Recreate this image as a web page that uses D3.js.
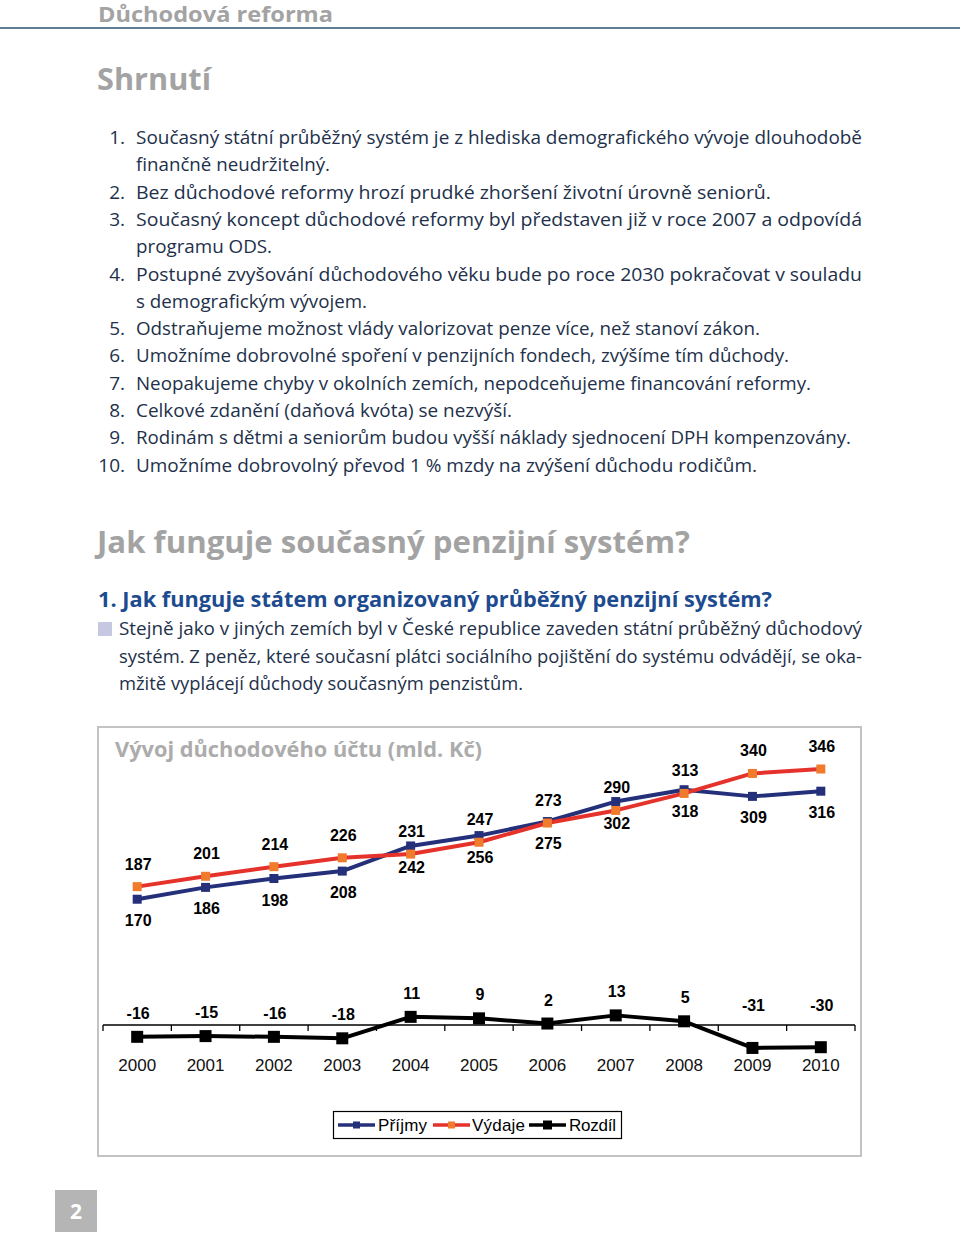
<!DOCTYPE html>
<html><head><meta charset="utf-8">
<script src="https://cdn.jsdelivr.net/npm/d3@7"></script>
<style>
html,body{margin:0;padding:0;background:#fff;}
svg{display:block;}
</style></head>
<body>
<svg id="page" width="960" height="1235"></svg>
<script>
// ---------- DATA ----------
const years = ["2000","2001","2002","2003","2004","2005","2006","2007","2008","2009","2010"];
const prijmy = [170,186,198,208,242,256,275,302,318,309,316];
const vydaje = [187,201,214,226,231,247,273,290,313,340,346];
const rozdil = [-16,-15,-16,-18,11,9,2,13,5,-31,-30];
const seriesNames = ["Příjmy","Výdaje","Rozdíl"];
const chartTitle = "Vývoj důchodového účtu (mld. Kč)";

const summaryItems = [
  ["1.", ["Současný státní průběžný systém je z hlediska demografického vývoje dlouhodobě", "finančně neudržitelný."]],
  ["2.", ["Bez důchodové reformy hrozí prudké zhoršení životní úrovně seniorů."]],
  ["3.", ["Současný koncept důchodové reformy byl představen již v roce 2007 a odpovídá", "programu ODS."]],
  ["4.", ["Postupné zvyšování důchodového věku bude po roce 2030 pokračovat v souladu", "s demografickým vývojem."]],
  ["5.", ["Odstraňujeme možnost vlády valorizovat penze více, než stanoví zákon."]],
  ["6.", ["Umožníme dobrovolné spoření v penzijních fondech, zvýšíme tím důchody."]],
  ["7.", ["Neopakujeme chyby v okolních zemích, nepodceňujeme financování reformy."]],
  ["8.", ["Celkové zdanění (daňová kvóta) se nezvýší."]],
  ["9.", ["Rodinám s dětmi a seniorům budou vyšší náklady sjednocení DPH kompenzovány."]],
  ["10.", ["Umožníme dobrovolný převod 1 % mzdy na zvýšení důchodu rodičům."]]
];
const paraLines = [
  "Stejně jako v jiných zemích byl v České republice zaveden státní průběžný důchodový",
  "systém. Z peněz, které současní plátci sociálního pojištění do systému odvádějí, se oka-",
  "mžitě vyplácejí důchody současným penzistům."
];

// ---------- PAGE ----------
const svg = d3.select("#page");
const FONT = "'Open Sans','Noto Sans',sans-serif";
const GREY = "#a3a3a3";
const TEXT = "#22304a";

function fit(sel, w){
  sel.attr("textLength", w).attr("lengthAdjust","spacingAndGlyphs");
}

svg.append("text").attr("x",98).attr("y",22).attr("font-family",FONT).attr("font-weight",700)
  .attr("font-size",20.5).attr("fill",GREY).text("Důchodová reforma").call(fit,235);
svg.append("rect").attr("x",0).attr("y",27).attr("width",960).attr("height",2).attr("fill","#5f7f95");

svg.append("text").attr("x",97).attr("y",90).attr("font-family",FONT).attr("font-weight",700)
  .attr("font-size",30).attr("fill",GREY).text("Shrnutí").call(fit,114);

const lineW = {
 "Současný státní průběžný systém je z hlediska demografického vývoje dlouhodobě":726,
 "finančně neudržitelný.":194,
 "Bez důchodové reformy hrozí prudké zhoršení životní úrovně seniorů.":635,
 "Současný koncept důchodové reformy byl představen již v roce 2007 a odpovídá":726,
 "programu ODS.":136,
 "Postupné zvyšování důchodového věku bude po roce 2030 pokračovat v souladu":726,
 "s demografickým vývojem.":231,
 "Odstraňujeme možnost vlády valorizovat penze více, než stanoví zákon.":624,
 "Umožníme dobrovolné spoření v penzijních fondech, zvýšíme tím důchody.":653,
 "Neopakujeme chyby v okolních zemích, nepodceňujeme financování reformy.":675,
 "Celkové zdanění (daňová kvóta) se nezvýší.":376,
 "Rodinám s dětmi a seniorům budou vyšší náklady sjednocení DPH kompenzovány.":715,
 "Umožníme dobrovolný převod 1 % mzdy na zvýšení důchodu rodičům.":621
};
let ly = 144;
summaryItems.forEach(([num, lines])=>{
  svg.append("text").attr("x",125).attr("y",ly).attr("text-anchor","end")
    .attr("font-family",FONT).attr("font-size",19).attr("fill",TEXT).text(num);
  lines.forEach(l=>{
    const t = svg.append("text").attr("x",136).attr("y",ly).attr("font-family",FONT)
      .attr("font-size",19).attr("fill",TEXT).text(l);
    if (lineW[l]) t.call(fit, lineW[l]);
    ly += 27.3;
  });
});

svg.append("text").attr("x",97).attr("y",553).attr("font-family",FONT).attr("font-weight",700)
  .attr("font-size",30).attr("fill",GREY).text("Jak funguje současný penzijní systém?").call(fit,593);
svg.append("text").attr("x",98).attr("y",607).attr("font-family",FONT).attr("font-weight",700)
  .attr("font-size",21).attr("fill","#1d4b8f").text("1. Jak funguje státem organizovaný průběžný penzijní systém?").call(fit,674);
svg.append("rect").attr("x",98).attr("y",622).attr("width",14).attr("height",14).attr("fill","#c6c8e2");
const paraW=[743,743,404];
paraLines.forEach((l,i)=>{
  svg.append("text").attr("x",119).attr("y",635+i*27.5).attr("font-family",FONT)
    .attr("font-size",19).attr("fill",TEXT).text(l).call(fit,paraW[i]);
});

// page number
svg.append("rect").attr("x",55).attr("y",1190).attr("width",42).attr("height",42).attr("fill","#b5b5b5");
svg.append("text").attr("x",76).attr("y",1219).attr("text-anchor","middle").attr("font-family",FONT)
  .attr("font-weight",700).attr("font-size",21).attr("fill","#fff").text("2");

// ---------- CHART ----------
svg.append("rect").attr("x",98).attr("y",727).attr("width",763).attr("height",429)
  .attr("fill","#fff").attr("stroke","#c3c3c3").attr("stroke-width",2);
svg.append("text").attr("x",115).attr("y",757).attr("font-family",FONT).attr("font-weight",700)
  .attr("font-size",22).attr("fill","#acacac").text(chartTitle).call(fit,367);

const x = d3.scaleBand().domain(years).range([103,855]).padding(0);
const cx = d => x(d) + x.bandwidth()/2;
const y = d3.scaleLinear().domain([0,346]).range([1025,1025-256]);

const axisG = svg.append("g").attr("transform",`translate(0,${y(0)})`);
axisG.call(d3.axisBottom(x).tickSize(0).tickPadding(0));
axisG.select(".domain").remove();
axisG.append("line").attr("x1",103).attr("x2",855).attr("stroke","#000").attr("stroke-width",1.3);
const bounds = years.map(d=>x(d)).concat([x(years[years.length-1])+x.bandwidth()]);
axisG.selectAll("line.tk").data(bounds).join("line").attr("class","tk")
  .attr("x1",d=>d).attr("x2",d=>d).attr("y1",0).attr("y2",6).attr("stroke","#000").attr("stroke-width",1.3);
axisG.selectAll(".tick text").attr("y",46).attr("dy",0).attr("font-family","'Liberation Sans',Arial,sans-serif")
  .attr("font-size",17).attr("fill","#111");

const lineGen = d3.line().x((d,i)=>cx(years[i])).y(d=>y(d));

function drawSeries(data, lineColor, markColor, lw, ms, cls){
  const g = svg.append("g").attr("class",cls);
  g.append("path").datum(data).attr("d",lineGen).attr("fill","none")
    .attr("stroke",lineColor).attr("stroke-width",lw).attr("stroke-linejoin","round");
  g.selectAll("rect").data(data).join("rect")
    .attr("x",(d,i)=>cx(years[i])-ms/2).attr("y",d=>y(d)-ms/2)
    .attr("width",ms).attr("height",ms).attr("fill",markColor);
  return g;
}
drawSeries(prijmy,"#24307a","#24307a",4,9,"prijmy");
drawSeries(vydaje,"#e5322b","#f07b2c",4,9,"vydaje");
drawSeries(rozdil,"#000","#000",4,12,"rozdil");

const LBL = "'Liberation Sans',Arial,sans-serif";
function labels(data, yFn){
  svg.append("g").selectAll("text").data(data).join("text")
    .attr("x",(d,i)=>cx(years[i])+1).attr("y",yFn)
    .attr("text-anchor","middle").attr("font-family",LBL).attr("font-weight",700)
    .attr("font-size",16).attr("fill","#000").text(d=>d);
}
labels(vydaje, d=>y(d)-17);
labels(prijmy, d=>y(d)+27);
labels(rozdil, d=> d < -20 ? y(0)-14 : y(d)-18);

// legend
const lg = svg.append("g");
lg.append("rect").attr("x",333.5).attr("y",1111.5).attr("width",288).attr("height",27)
  .attr("fill","#fff").attr("stroke","#000").attr("stroke-width",1.2);
const leg = [
  {name:seriesNames[0], lc:"#24307a", mc:"#24307a", x0:338, tx:378, ms:7, w:49},
  {name:seriesNames[1], lc:"#e5322b", mc:"#f07b2c", x0:433, tx:472, ms:7, w:53},
  {name:seriesNames[2], lc:"#000", mc:"#000", x0:529, tx:569, ms:9, w:47}
];
leg.forEach(l=>{
  lg.append("line").attr("x1",l.x0).attr("x2",l.x0+37).attr("y1",1125).attr("y2",1125)
    .attr("stroke",l.lc).attr("stroke-width",3.5);
  lg.append("rect").attr("x",l.x0+18.5-l.ms/2).attr("y",1125-l.ms/2).attr("width",l.ms).attr("height",l.ms).attr("fill",l.mc);
  lg.append("text").attr("x",l.tx).attr("y",1131).attr("font-family",LBL).attr("font-size",17)
    .attr("fill","#000").text(l.name).attr("textLength",l.w).attr("lengthAdjust","spacing");
});
</script>
</body></html>
